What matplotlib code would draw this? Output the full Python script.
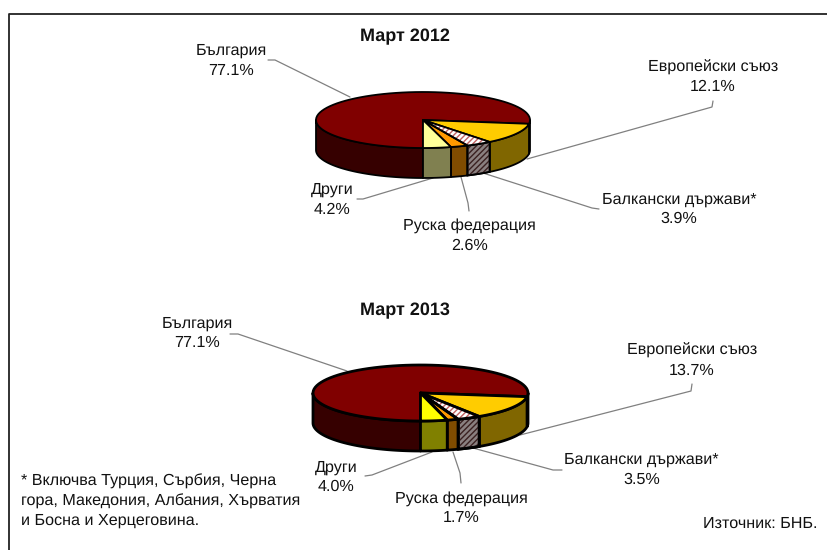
import numpy as np
import matplotlib
matplotlib.use("Agg")
import matplotlib.pyplot as plt

plt.rcParams['font.family'] = ['Liberation Sans', 'DejaVu Sans']
plt.rcParams['hatch.linewidth'] = 1.0
plt.rcParams['text.hinting'] = 'none'

# data
categories = ['България', 'Европейски съюз', 'Балкански държави*', 'Руска федерация', 'Други']
values_2012 = [77.1, 12.1, 3.9, 2.6, 4.2]
values_2013 = [77.1, 13.7, 3.5, 1.7, 4.0]
titles = ['Март 2012', 'Март 2013']
footnote = '* Включва Турция, Сърбия, Черна\nгора, Македония, Албания, Хърватия\nи Босна и Херцеговина.'
source = 'Източник: БНБ.'

# colours per slice: top face, side wall
top_colors = ['#800000', '#FFCC00', '#FFFFFF', '#FF9900', '#FFFF99']
side_colors = ['#360000', '#806600', '#8A8080', '#804C00', '#808050']
top_colors_2013 = ['#800000', '#FFCC00', '#FFFFFF', '#FF9900', '#FFFF00']
side_colors_2013 = ['#360000', '#806600', '#8A8080', '#804C00', '#808000']

FONT = 11.6
GREY = '#808080'


# one slice of the squashed pie, going clockwise from a1 to a2 (degrees)
def arc(cx, cy, rx, ry, a1, a2):
    t = np.radians(np.linspace(a1, a2, 80))
    return cx + rx * np.cos(t), cy - ry * np.sin(t)


def draw_pie(ax, values, tops, sides, cx, cy, rx, ry, depth, lw):
    fractions = np.array(values) / np.sum(values) * 360
    ends = -90 - np.cumsum(fractions)
    starts = np.concatenate(([-90], ends[:-1]))

    # side walls, only the front half of the rim shows
    for i in range(len(values)):
        for shift in (0, 360):
            a1 = min(starts[i] + shift, 0)
            a2 = max(ends[i] + shift, -180)
            if a1 <= a2:
                continue
            x, y = arc(cx, cy, rx, ry, a1, a2)
            px = np.concatenate((x, x[::-1]))
            py = np.concatenate((y, y[::-1] + depth))
            ax.fill(px, py, facecolor=sides[i], edgecolor='black', lw=lw, zorder=2,
                    joinstyle='round')
            if i == 2:
                ax.fill(px, py, facecolor='none', edgecolor='#3A2020', hatch='//////', lw=0, zorder=2.1)
                ax.fill(px, py, facecolor='none', edgecolor='black', lw=lw, zorder=2.2)

    # top faces
    for i in range(len(values)):
        x, y = arc(cx, cy, rx, ry, starts[i], ends[i])
        px = np.concatenate(([cx], x))
        py = np.concatenate(([cy], y))
        if i == 2:
            ax.fill(px, py, facecolor='white', edgecolor='#C06060', hatch='//////', lw=0, zorder=3)
            ax.fill(px, py, facecolor='none', edgecolor='black', lw=lw, zorder=3.1)
        else:
            ax.fill(px, py, facecolor=tops[i], edgecolor='black', lw=lw, zorder=3,
                    joinstyle='round')


def draw_labels(ax, values, spots):
    for name, val, spot in zip(categories, values, spots):
        ax.text(spot[0], spot[1], name + '\n' + f'{val:.1f}%', ha='center', va='center',
                fontsize=FONT, color='#111111', linespacing=1.4, zorder=5)


def draw_leaders(ax, leaders):
    for pts in leaders:
        xs, ys = zip(*pts)
        ax.plot(xs, ys, color=GREY, lw=0.9, zorder=1, solid_capstyle='round')


fig = plt.figure(figsize=(8.28, 5.5), dpi=100)
ax = fig.add_axes([0, 0, 1, 1])
ax.set_xlim(0, 828)
ax.set_ylim(550, 0)
ax.axis('off')

# frame, only left and top are inside the crop
ax.plot([9.5, 9.5, 828], [550, 13.5, 13.5], color='#222222', lw=1.3, zorder=1)

ax.text(405, 37, titles[0], ha='center', va='center', fontsize=13, fontweight='bold', color='#111111')
ax.text(405, 311, titles[1], ha='center', va='center', fontsize=13, fontweight='bold', color='#111111')

draw_pie(ax, values_2012, top_colors, side_colors, 423, 120, 107, 28, 30, 1.3)
draw_pie(ax, values_2013, top_colors_2013, side_colors_2013, 420.5, 393, 107.5, 28, 30, 2.0)

draw_labels(ax, values_2012, [(231, 60.5), (713, 77), (679, 209), (469.5, 235.5), (332, 199.5)])
draw_labels(ax, values_2013, [(197, 333), (692, 360.5), (641.5, 469.5), (461, 508), (336, 477)])

draw_leaders(ax, [
    [(268, 60), (275, 60), (350, 97)],
    [(713, 101), (712, 107), (527, 159)],
    [(599, 209), (592, 208), (483, 173)],
    [(469, 211), (468, 203), (461, 177)],
    [(357, 199), (363, 199), (433, 178)],
])
draw_leaders(ax, [
    [(230, 334), (238, 334), (347, 371)],
    [(692, 384), (691, 391), (520, 435)],
    [(562, 470), (553, 470), (473, 448)],
    [(461, 483), (460, 473), (453, 452)],
    [(365, 476), (372, 475), (432, 452)],
])

ax.text(21, 501, footnote, ha='left', va='center', fontsize=FONT, color='#111111', linespacing=1.42)
ax.text(817, 524, source, ha='right', va='center', fontsize=FONT, color='#111111')

fig.savefig('out.png', dpi=100)
